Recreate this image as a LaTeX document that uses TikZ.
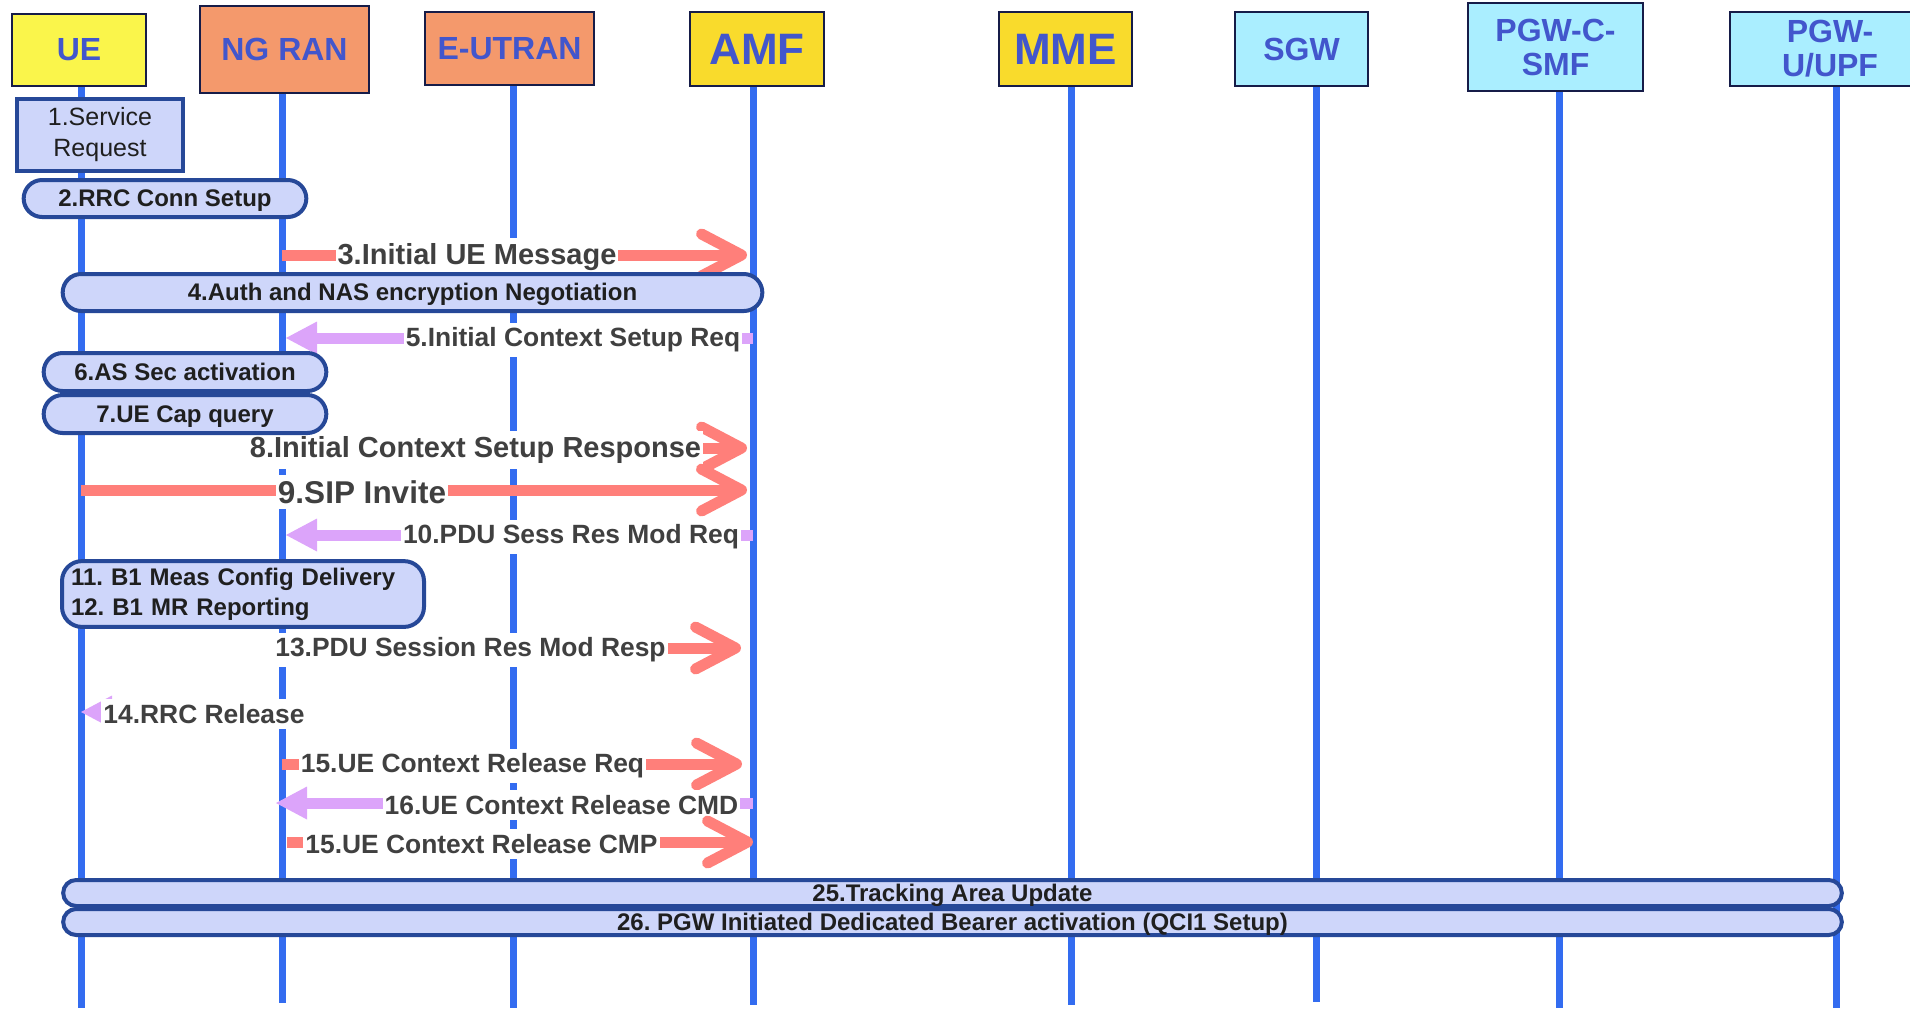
\documentclass[tikz,border=0pt]{standalone}
\usepackage{fontspec}
\setmainfont{Liberation Sans}
\usetikzlibrary{arrows.meta, positioning, shapes.misc}
\frenchspacing

\definecolor{lifeblue}{RGB}{51,108,240}
\definecolor{hdtext}{RGB}{66,86,204}
\definecolor{hdborder}{RGB}{22,28,72}
\definecolor{ueyellow}{RGB}{250,245,75}
\definecolor{ranorange}{RGB}{244,153,108}
\definecolor{coregold}{RGB}{249,219,44}
\definecolor{gwcyan}{RGB}{170,238,255}
\definecolor{pillfill}{RGB}{206,214,250}
\definecolor{pillline}{RGB}{38,72,152}
\definecolor{reqred}{RGB}{255,127,122}
\definecolor{rspviolet}{RGB}{220,164,250}
\definecolor{msgtext}{RGB}{64,64,64}

\begin{document}
\begin{tikzpicture}[
      x=0.5pt, y=-0.5pt,
      head/.style = {draw=hdborder, line width=1.25pt, fill=#1, text=hdtext, align=center,
                     font=\fontsize{16}{17}\selectfont\bfseries},
      bighead/.style = {head=#1, font=\fontsize{22}{24}\selectfont\bfseries},
      lifeline/.style = {draw=lifeblue, line width=3.5pt},
      srbox/.style = {draw=pillline, line width=2pt, fill=pillfill, align=center, text=black!88,
                      font=\fontsize{12.5}{15.5}\selectfont},
      pill/.style = {rounded rectangle, draw=pillline, line width=2pt, fill=pillfill, text=black!88,
                     font=\fontsize{12}{14}\selectfont\bfseries, inner ysep=0pt,
                     text height=10.5pt, text depth=2.5pt},
      b1box/.style = {draw=pillline, line width=2pt, fill=pillfill, text=black!88, rounded corners=10pt,
                      align=left, font=\fontsize{12}{15}\selectfont\bfseries},
      req/.style = {draw=reqred, line width=5.5pt, shorten >=3pt,
                    -{Straight Barb[length=20pt, width=21pt, round]}},
      rsp/.style = {draw=rspviolet, line width=5.5pt, shorten >=2pt,
                    -{Triangle[length=15.5pt, width=16.5pt, line width=0pt]}},
      msg/.style = {fill=white, text=msgtext, inner xsep=1pt, inner ysep=2.5pt, yshift=-1pt,
                    font=\fontsize{13.2}{15}\selectfont\bfseries},
      bigmsg/.style = {msg, font=\fontsize{14.5}{17}\selectfont\bfseries}
    ]
    \useasboundingbox (0,0) rectangle (1910,1008);

    % lifelines
    \foreach \n/\x/\b in {ue/81/1008, ngran/282/1003, eutran/513/1008, amf/753/1005,
                          mme/1071/1005, sgw/1316/1002, pgwc/1559/1008, pgwu/1836/1008} {
      \coordinate (\n-top) at (\x,60);
      \coordinate (\n-bot) at (\x,\b);
      \draw[lifeline] (\n-top) -- (\n-bot);
    }

    % messages
    \draw[req] (ngran-top |- 0,255) -- (amf-top |- 0,255);
    \node[bigmsg] (m3) at (477,255) {3.Initial UE Message};

    \draw[rsp] (amf-top |- 0,338) -- (ngran-top |- 0,338);
    \node[msg] (m5) at (573,338) {5.Initial Context Setup Req};

    \draw[req] (ngran-top |- 0,448) -- (amf-top |- 0,448);
    \node[bigmsg] (m8) at (475.5,448) {8.Initial Context Setup Response};

    \draw[req] (ue-top |- 0,490) -- (amf-top |- 0,490);
    \node[msg, font=\fontsize{15.75}{18}\selectfont\bfseries] (m9) at (362,490) {9.SIP Invite};

    \draw[rsp] (amf-top |- 0,535) -- (ngran-top |- 0,535);
    \node[msg] (m10) at (571,535) {10.PDU Sess Res Mod Req};

    \draw[req, shorten >=6pt] (ngran-top |- 0,648) -- (amf-top |- 0,648);
    \node[msg] (m13) at (470.5,648) {13.PDU Session Res Mod Resp};

    \draw[rsp, shorten >=0pt] (ngran-top |- 0,712) -- (ue-top |- 0,712);
    \node[msg] (m14) at (204,712) {14.RRC Release};

    \draw[req, shorten >=5.5pt] (ngran-top |- 0,764) -- (amf-top |- 0,764);
    \node[msg] (m15) at (472.5,764) {15.UE Context Release Req};

    \draw[rsp, shorten >=-3pt] (amf-top |- 0,803) -- (ngran-top |- 0,803);
    \node[msg] (m16) at (561.5,803) {16.UE Context Release CMD};

    \draw[req, shorten >=0pt, shorten <=2.5pt] (ngran-top |- 0,842) -- (amf-top |- 0,842);
    \node[msg] (m17) at (481.5,842) {15.UE Context Release CMP};

    % procedures
    \node[srbox, minimum width=83pt, minimum height=36pt] (sr) at (100,135) {1.Service\\Request};
    \node[pill, minimum width=148pt, minimum height=18.5pt] (rrc) at (165,198.5) {2.RRC Conn Setup};
    \node[pill, minimum width=356.5pt, minimum height=18.5pt] (auth) at (412.5,292.5) {4.Auth and NAS encryption Negotiation};
    \node[pill, minimum width=148pt, minimum height=19pt] (assec) at (185,372) {6.AS Sec activation};
    \node[pill, minimum width=148pt, minimum height=19pt] (cap) at (185,414) {7.UE Cap query};
    \node[b1box, minimum height=29pt, text width=172pt, inner xsep=4.5pt] (b1) at (243,594)
          {11. B1 Meas Config Delivery\\12. B1 MR Reporting};
    \node[pill, minimum width=896pt, minimum height=13pt] (tau) at (952.5,893) {25.Tracking Area Update};
    \node[pill, minimum width=896pt, minimum height=13pt] (bearer) at (952.5,922) {26. PGW Initiated Dedicated Bearer activation (QCI1 Setup)};

    % entities
    \node[head=ueyellow, minimum width=67pt, minimum height=36pt] (ue) at (79,50) {UE};
    \node[head=ranorange, minimum width=84.5pt, minimum height=43.5pt] (ngran) at (284.5,49.5) {NG RAN};
    \node[head=ranorange, minimum width=84.5pt, minimum height=36.5pt] (eutran) at (509.5,48.5) {E-UTRAN};
    \node[bighead=coregold, minimum width=67pt, minimum height=37pt] (amf) at (757,49) {AMF};
    \node[bighead=coregold, minimum width=66.5pt, minimum height=37pt] (mme) at (1065.5,49) {MME};
    \node[head=gwcyan, minimum width=66.5pt, minimum height=37pt] (sgw) at (1301.5,49) {SGW};
    \node[head=gwcyan, minimum width=87.5pt, minimum height=44pt] (pgwc) at (1555.5,47) {PGW-C-\\SMF};
    \node[head=gwcyan, minimum width=100pt, minimum height=37pt] (pgwu) at (1830,49) {PGW-\\U/UPF};

\end{tikzpicture}
\end{document}
